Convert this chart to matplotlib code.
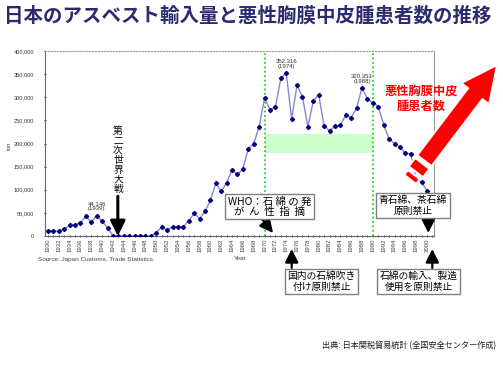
import numpy as np
import matplotlib
matplotlib.use('Agg')
import matplotlib.pyplot as plt
from matplotlib.patches import Polygon, FancyArrowPatch
from matplotlib.ticker import FuncFormatter, MultipleLocator

plt.rcParams['font.family'] = ['Noto Sans CJK JP', 'DejaVu Sans']

# Asbestos imports into Japan [ton], 1930-2000
years = list(range(1930, 2001))
imports = [
    11000, 11500, 10000, 15000, 23000, 24000, 28500, 43000, 30000, 44146,
    31500, 18000, 0, 0, 0, 0, 0, 0, 0, 0,
    7500, 20000, 13000, 19500, 20000, 20000, 33000, 49000, 37500, 53000,
    77000, 114000, 96500, 115000, 143000, 133000, 145000, 189000, 200000, 236000,
    299000, 273000, 278000, 341000, 352316, 254000, 326000, 301000, 236000, 292000,
    305000, 238000, 228000, 237000, 239000, 262000, 256000, 277000, 320353, 296000,
    288000, 280000, 241000, 210000, 200000, 192000, 179000, 177000, 123000, 117000,
    98000,
]
peak_labels = [(1939, 44146, '44,146\n(1939)'),
               (1974, 352316, '352,316\n(1974)'),
               (1988, 320353, '320,353\n(1988)')]
event_years = [1970, 1990]
band = (180000, 220000)

W, H = 503, 368
XMIN, XMAX = 1929.45, 2001.35


def px(x, y):
    """pixel (y down) -> figure fraction"""
    return x / W, 1 - y / H


fig = plt.figure(figsize=(W / 100, H / 100), dpi=100)
ax = fig.add_axes([45 / W, 1 - 236 / H, 389.3 / W, 185 / H])

ax.axhspan(band[0], band[1], xmin=(event_years[0] - XMIN) / (XMAX - XMIN),
           xmax=(event_years[1] - XMIN) / (XMAX - XMIN), color='#ccffcc', lw=0, zorder=1)
for yr in event_years:
    ax.axvline(yr, color='#00cc00', ls=':', lw=1.2, zorder=2)

ax.plot(years, imports, color='#8888cc', lw=1.0, zorder=3)
ax.plot(years, imports, ls='none', marker='D', ms=2.1, color='#000080', zorder=4)

for yr, val, lab in peak_labels:
    ax.text(yr, val + 9000, lab, ha='center', va='bottom', fontsize=4.3,
            color='#333333', family='Liberation Sans', linespacing=1.1)

ax.set_xlim(XMIN, XMAX)
ax.set_ylim(0, 400000)
ax.xaxis.set_major_locator(MultipleLocator(2))
ax.xaxis.set_minor_locator(MultipleLocator(1))
ax.yaxis.set_major_locator(MultipleLocator(50000))
ax.yaxis.set_major_formatter(FuncFormatter(lambda v, p: f'{int(v):,}'))
ax.tick_params(axis='x', which='both', direction='inout', colors='#000080', length=2, width=0.6,
               labelrotation=90, labelsize=4.3, labelcolor='#444444', pad=1)
ax.tick_params(axis='y', direction='inout', colors='#000080', length=2, width=0.6,
               labelsize=4.1, labelcolor='#333333', pad=7)
for lab in ax.get_xticklabels() + ax.get_yticklabels():
    lab.set_family('Liberation Sans')
ax.spines['top'].set_linestyle(':')
ax.spines['top'].set_color('#999999')
ax.spines['right'].set_color('#999999')
ax.spines['left'].set_color('#666666')
ax.spines['bottom'].set_color('#666666')
for s in ax.spines.values():
    s.set_linewidth(0.8)

# title and axis texts
fig.text(*px(4, 16), '日本のアスベスト輸入量と悪性胸膜中皮腫患者数の推移', fontsize=14.0,
         fontweight='bold', color='#2b2b70', va='center', ha='left')
fig.text(*px(9, 146), 'ton', rotation=90, fontsize=4.3, color='#444444',
         family='Liberation Sans', ha='center', va='center')
fig.text(*px(38, 260), 'Source: Japan Customs, Trade Statistics.', fontsize=4.6,
         color='#444444', family='Liberation Sans', va='center')
fig.text(*px(240, 259), 'Year', fontsize=4.6, color='#444444',
         family='Liberation Sans', va='center', ha='center')
fig.text(*px(496, 346), '出典: 日本関税貿易統計 (全国安全センター作成)', fontsize=5.9,
         color='#222222', ha='right', va='center')

# WWII
fig.text(*px(118, 160), '\n'.join('第二次世界大戦'), fontsize=7, ha='center', va='center',
         linespacing=0.95)
ax.annotate('', xy=(1942.9, 0), xytext=(1942.9, 86000),
            arrowprops=dict(arrowstyle='-|>,head_width=0.45,head_length=0.9',
                            lw=2.2, color='black', mutation_scale=10, shrinkA=0, shrinkB=0))

box = dict(boxstyle='square,pad=0.25', fc='white', ec='#808080', lw=1)
fig.text(*px(269.5, 206.5), 'WHO：石 綿 の 発\nが  ん  性  指  摘', fontsize=7.5,
         ha='center', va='center', bbox=box, linespacing=1.0, zorder=6)
fig.text(*px(413, 205.5), '青石綿、茶石綿\n原則禁止', fontsize=7, ha='center', va='center',
         bbox=box, linespacing=1.05, zorder=6)
fig.text(*px(321.5, 281.5), '国内の石綿吹き\n付け原則禁止', fontsize=7, ha='center', va='center',
         bbox=box, linespacing=1.05)
fig.text(*px(418.5, 281.5), '石綿の輸入、製造\n使用を原則禁止', fontsize=7, ha='center', va='center',
         bbox=box, linespacing=1.05)

arrow = dict(arrowstyle='-|>,head_width=0.4,head_length=0.8', lw=1.6, color='black',
             mutation_scale=10, shrinkA=0, shrinkB=0)
for start, end in [((262, 219), (273, 233)), ((428.3, 217), (428.3, 233)),
                   ((291.7, 268), (291.7, 249)), ((432.3, 268), (432.3, 249))]:
    fig.add_artist(FancyArrowPatch(px(*start), px(*end), transform=fig.transFigure, **arrow))

# red arrow: patients trend
o = np.array([412.0, 177.0])
tip = np.array([497.0, 65.0])
L = np.linalg.norm(tip - o)
u = (tip - o) / L
n = np.array([-u[1], u[0]])


def rect(s0, s1, hw):
    pts = [o + u * s0 + n * hw, o + u * s1 + n * hw, o + u * s1 - n * hw, o + u * s0 - n * hw]
    return [px(*p) for p in pts]


shapes = [rect(-3.0, 3.0, 7.5), rect(6.5, 17.0, 9.0)]
hb = L - 36
shapes.append([px(*p) for p in [o + u * 20.5 + n * 9.0, o + u * hb + n * 9.0, o + u * hb + n * 17.5,
                                tip, o + u * hb - n * 17.5, o + u * hb - n * 9.0,
                                o + u * 20.5 - n * 9.0]])
for pts in shapes:
    fig.add_artist(Polygon(pts, closed=True, fc='#ff0000', ec='white', lw=1.4,
                           transform=fig.transFigure, zorder=7))
fig.text(*px(421.7, 99), '悪性胸膜中皮\n腫患者数', color='#ff0000', fontsize=8.8,
         fontweight='bold', ha='center', va='center', linespacing=1.2, zorder=8)

fig.savefig('out.png', dpi=100)
